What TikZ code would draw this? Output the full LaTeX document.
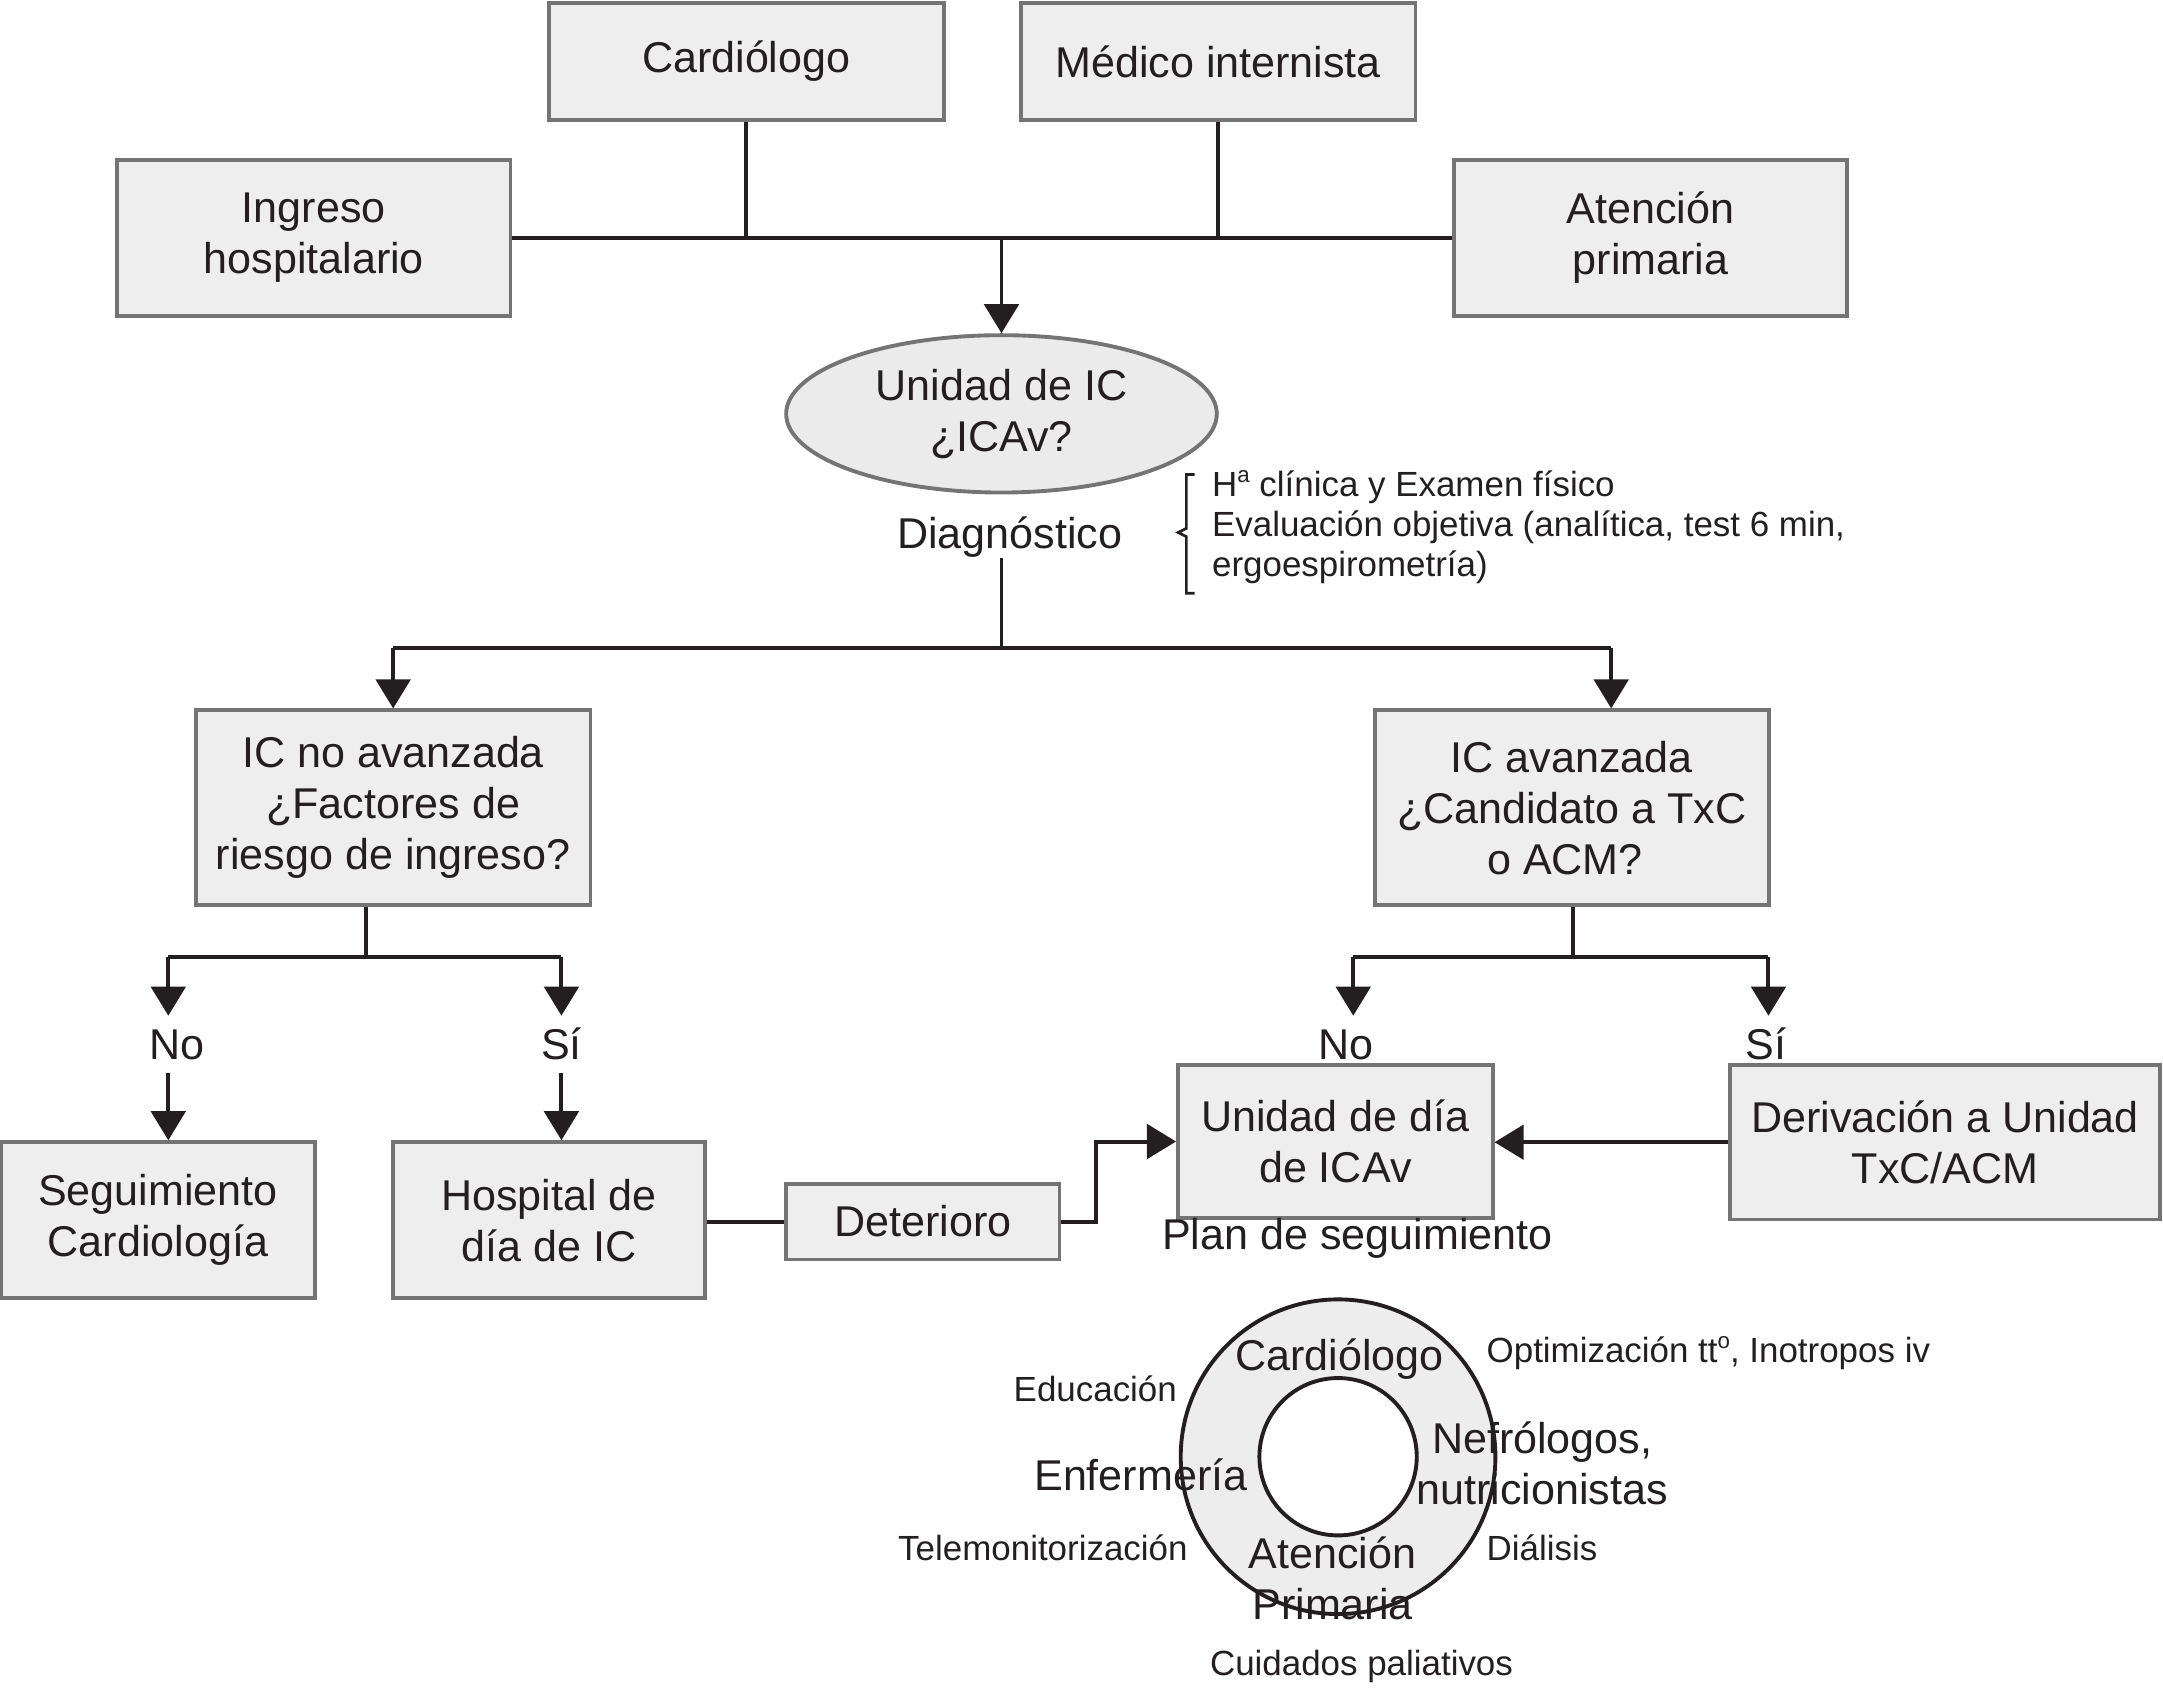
\documentclass[tikz,border=0pt]{standalone}
\usepackage{fontspec}
\setmainfont{Liberation Sans}
\usetikzlibrary{arrows.meta,shapes.geometric}
\definecolor{boxfill}{HTML}{EEEEEE}
\definecolor{boxborder}{HTML}{747474}
\definecolor{ellfill}{HTML}{EBEBEB}
\definecolor{ringfill}{HTML}{EDEDED}
\definecolor{lineblack}{HTML}{231F20}
\newcommand\fbig{\fontsize{8.88}{10.53}\selectfont}
\newcommand\fsmall{\fontsize{7.2}{8.25}\selectfont}
\newcommand\supsm[1]{\raisebox{0.42em}{\fontsize{4.6}{5}\selectfont #1}}
\tikzset{
  box/.style={draw=boxborder, fill=boxfill, line width=0.8pt, rectangle, inner sep=0pt, align=center, font=\fbig, text=lineblack},
  conn/.style={line width=0.82pt, draw=lineblack},
  arr/.style={conn, -{Triangle[length=6pt,width=7.1pt]}},
  lbl/.style={font=\fbig, inner sep=0.09cm, text height=0.22cm, text depth=0pt, text=lineblack},
  txt/.style={font=\fbig, inner sep=0pt, align=center, text=lineblack},
  stxt/.style={font=\fsmall, inner sep=0pt, align=center, text=lineblack},
}
\begin{document}
\begin{tikzpicture}[x=0.01cm, y=-0.01cm]
\useasboundingbox (0,0) rectangle (1568,1223);
% top boxes
\node[box, minimum width=2.86cm, minimum height=0.85cm] (card) at (541,44.5) {Cardiólogo};
\node[box, minimum width=2.86cm, minimum height=0.85cm] (medi) at (883,44.5) {Médico internista};
\node[box, minimum width=2.85cm, minimum height=1.13cm] (ingr) at (227.5,172.5) {Ingreso\\hospitalario};
\node[box, minimum width=2.85cm, minimum height=1.13cm] (aten) at (1196.5,172.5) {Atención\\primaria};
\node[ellipse, draw=boxborder, fill=ellfill, line width=0.8pt, minimum width=3.12cm, minimum height=1.14cm, inner sep=0pt, align=center, font=\fbig, text=lineblack] (uic) at (726,300) {Unidad de IC\\¿ICAv?};
\node[txt] (diag) at (732,389) {Diagnóstico};
% top connectors
\coordinate (jc) at (card.south |- ingr.east);
\coordinate (jm) at (medi.south |- ingr.east);
\coordinate (jt) at (uic.north |- ingr.east);
\draw[conn] (ingr.east) -- (aten.west);
\draw[conn] (card.south) -- (jc);
\draw[conn] (medi.south) -- (jm);
\draw[arr] (jt) -- (uic.north);
% bracket and notes
\draw[line width=0.55pt, lineblack] (866,344) -- (860,344) -- (860,383) -- (854,386) -- (860,389) -- (860,430) -- (866,430);
\node[stxt, anchor=west, align=left] (notes) at (878,382) {H\supsm{a} clínica y Examen físico\\Evaluación objetiva (analítica, test 6 min,\\ergoespirometría)};
% second level
\node[box, minimum width=2.86cm, minimum height=1.41cm] (icno) at (285,585.5) {IC no avanzada\\¿Factores de\\riesgo de ingreso?};
\node[box, minimum width=2.85cm, minimum height=1.41cm] (icav) at (1139.5,585.5) {IC avanzada\\¿Candidato a TxC\\o ACM?\hspace*{0.1cm}};
\coordinate (jd) at (726,470);
\coordinate (dl) at (285,470);
\coordinate (dr) at (1168,470);
\draw[conn] (diag.south -| uic.center) -- (jd);
\draw[conn] (dl) -- (dr);
\draw[arr] (dl) -- (icno.north);
\draw[arr] (dr) -- (dr |- icav.north);
% left branch
\coordinate (ja) at (265,694);
\coordinate (nl) at (122,694);
\coordinate (sl) at (407,694);
\draw[conn] (ja |- icno.south) -- (ja);
\draw[conn] (nl) -- (sl);
\node[lbl] (noL) at (128,757) {No};
\node[lbl] (siL) at (407,757) {Sí};
\draw[arr] (nl) -- (nl |- noL.north);
\draw[arr] (sl) -- (siL.north);
\node[box, minimum width=2.27cm, minimum height=1.13cm] (segu) at (114.5,884.5) {Seguimiento\\Cardiología};
\node[box, minimum width=2.26cm, minimum height=1.13cm] (hosp) at (398,884.5) {Hospital de\\día de IC};
\node[box, minimum width=1.98cm, minimum height=0.55cm] (dete) at (669,885.5) {Deterioro};
\draw[arr] (nl |- noL.south) -- (nl |- segu.north);
\draw[arr] (siL.south) -- (siL.south |- hosp.north);
% right branch
\coordinate (jb) at (1140,694);
\coordinate (nr) at (981,694);
\coordinate (sr) at (1282,694);
\draw[conn] (jb |- icav.south) -- (jb);
\draw[conn] (nr) -- (sr);
\node[lbl] (noR) at (976,757) {No};
\node[lbl] (siR) at (1280,757) {Sí};
\draw[arr] (nr) -- (nr |- noR.north);
\draw[arr] (sr) -- (sr |- siR.north);
\node[box, minimum width=2.28cm, minimum height=1.11cm] (unid) at (968,827.5) {Unidad de día\\de ICAv};
\node[box, minimum width=3.12cm, minimum height=1.12cm] (deri) at (1410,828) {Derivación a Unidad\\TxC/ACM};
\node[txt] (plan) at (984,898) {Plan de seguimiento};
\draw[conn] (dete.west -| hosp.east) -- (dete.west);
\draw[arr] (dete.east) -- ++(25,0) |- (unid.west);
\draw[arr] (deri.west) -- (unid.east |- deri.west);
% ring
\coordinate (rc) at (970,1056);
\path[fill=ringfill, draw=lineblack, line width=0.8pt] (rc) circle (1.14cm);
\path[fill=white, draw=lineblack, line width=0.8pt] (rc) circle (0.57cm);
\node[txt] (rcard) at (971,985) {Cardiólogo};
\node[txt] (renf) at (827,1069) {Enfermería};
\node[txt] (rnef) at (1118,1060.5) {Nefrólogos,\\nutricionistas};
\node[txt] (rate) at (966,1144) {Atención\\Primaria};
\node[stxt, anchor=west] (ropt) at (1077,981) {Optimización tt\supsm{o}, Inotropos iv};
\node[stxt] (redu) at (794,1007) {Educación};
\node[stxt] (rtel) at (756,1122) {Telemonitorización};
\node[stxt, anchor=west] (rdia) at (1077,1122) {Diálisis};
\node[stxt] (rcui) at (987,1208) {Cuidados paliativos};
\end{tikzpicture}
\end{document}
